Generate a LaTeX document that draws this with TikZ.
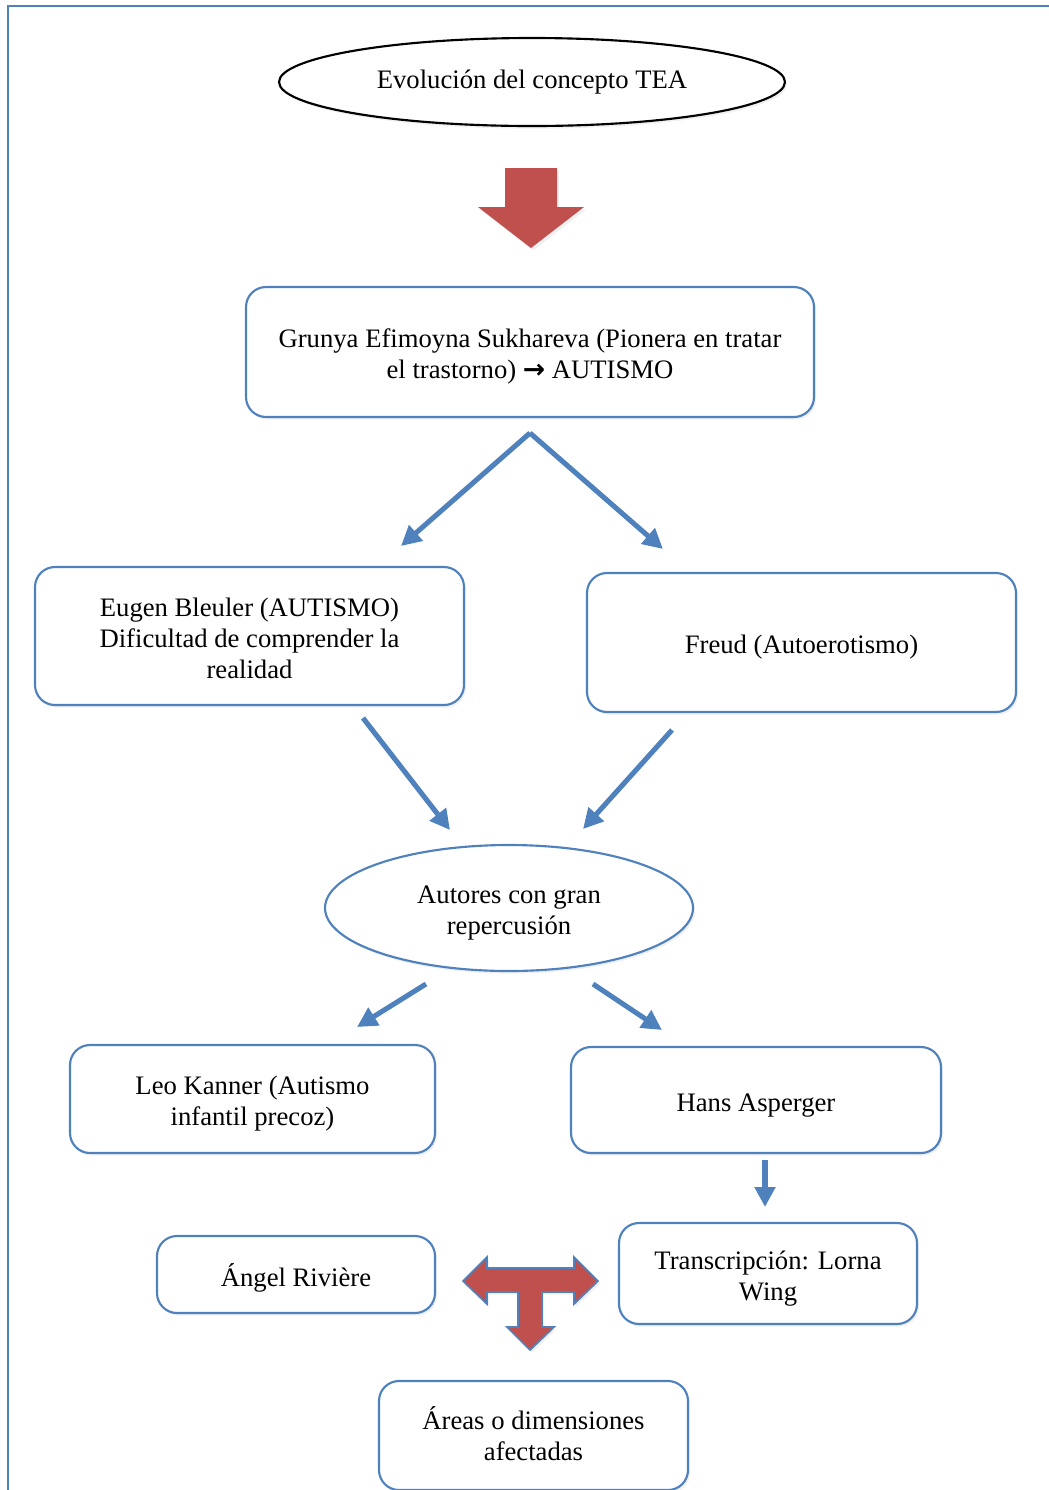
\documentclass[tikz,border=0pt]{standalone}
\usepackage{fontspec}
\setmainfont{Liberation Serif}
\newfontfamily\symfont{DejaVu Sans}
\usetikzlibrary{shapes.geometric,arrows.meta,shadows}
\definecolor{frameblue}{HTML}{4F81BD}
\definecolor{blockred}{HTML}{C0504D}
\begin{document}
\begin{tikzpicture}[x=0.75pt,y=-0.75pt,
  every node/.style={font=\fontsize{20}{23.25}\selectfont, align=center, inner sep=0pt},
  softshadow/.style={drop shadow={opacity=0.12, shadow xshift=1.5pt, shadow yshift=-2pt}},
  roundbox/.style={draw=frameblue, line width=1.6pt, rounded corners=15pt, fill=white, softshadow},
  oval/.style={ellipse, fill=white, line width=1.6pt, softshadow},
  flowarrow/.style={draw=frameblue, line width=3.8pt, -{Triangle[length=15pt,width=15pt]}},
  blockarrow/.style={fill=blockred, softshadow}
]
\useasboundingbox (0,0) rectangle (1049,1490);
% page frame
\draw[frameblue, line width=2pt] (8,6) rectangle (1070,1510);

% title
\node[oval, draw=black, minimum width=379.5pt, minimum height=66pt] (title) at (532,82) {Evolución del concepto TEA};

% red block arrow under the title
\path[blockarrow] (505,168) -- (557,168) -- (557,207) -- (584,207) -- (531,248) -- (478,207) -- (505,207) -- cycle;

% boxes (frames), texts set just below their centres
\node[roundbox, minimum width=426pt, minimum height=97.5pt] (sukh) at (530,352) {};
\node[yshift=-3pt] (sukhtext) at (sukh)
  {Grunya Efimoyna Sukhareva (Pionera en tratar\\el trastorno) {\symfont\bfseries →} AUTISMO};

\node[roundbox, minimum width=321.75pt, minimum height=103.5pt] (bleuler) at (249.5,636) {};
\node[yshift=-1.5pt] (bleulertext) at (bleuler)
  {Eugen Bleuler (AUTISMO)\\Dificultad de comprender la\\realidad};

\node[roundbox, minimum width=321.75pt, minimum height=104.25pt] (freud) at (801.5,642.5) {};
\node[yshift=-3.75pt] (freudtext) at (freud) {Freud (Autoerotismo)};

\node[oval, draw=frameblue, minimum width=276pt, minimum height=94.5pt] (autores) at (509,908) {};
\node[yshift=-3.75pt] (autorestext) at (autores) {Autores con gran\\repercusión};

\node[roundbox, minimum width=273.75pt, minimum height=81pt] (kanner) at (252.5,1099) {};
\node[yshift=-3.75pt] (kannertext) at (kanner) {Leo Kanner (Autismo\\infantil precoz)};

\node[roundbox, minimum width=277.5pt, minimum height=79.5pt] (asperger) at (756,1100) {};
\node[yshift=-4.5pt] (aspergertext) at (asperger) {Hans Asperger};

\node[roundbox, minimum width=223.5pt, minimum height=75.75pt] (wing) at (768,1273.5) {};
\node[yshift=-3.75pt] (wingtext) at (wing) {Transcripción: Lorna\\Wing};

\node[roundbox, minimum width=208.5pt, minimum height=57.75pt] (riviere) at (296,1274.5) {};
\node[yshift=-2.25pt] (rivieretext) at (riviere) {Ángel Rivière};

\node[roundbox, minimum width=231.75pt, minimum height=81.75pt] (areas) at (533.5,1435.5) {};
\node[yshift=1.5pt] (areastext) at (areas) {Áreas o dimensiones\\afectadas};

% arrow end points
\coordinate (sukhout) at (530,433);
\coordinate (toBleuler) at (401,546);
\coordinate (toFreud) at (663,549);
\coordinate (bleulerout) at (363,718);
\coordinate (freudout) at (672,730);
\coordinate (inAutL) at (450,830);
\coordinate (inAutR) at (583,829);
\coordinate (autL) at (426,984);
\coordinate (autR) at (593,984);
\coordinate (toKanner) at (357,1027);
\coordinate (toAsperger) at (662,1030);
\coordinate (aspout) at (765,1160);
\coordinate (toWing) at (765,1207);

% blue connectors
\draw[flowarrow] (sukhout) -- (toBleuler);
\draw[flowarrow] (sukhout) -- (toFreud);
\draw[flowarrow] (bleulerout) -- (inAutL);
\draw[flowarrow] (freudout) -- (inAutR);
\draw[flowarrow] (autL) -- (toKanner);
\draw[flowarrow] (autR) -- (toAsperger);
\draw[flowarrow] (aspout) -- (toWing);

% three-way block arrow
\path[blockarrow, draw=frameblue, line width=1.3pt, line join=miter]
  (463,1281) -- (487,1257) -- (487,1268) -- (574,1268) -- (574,1257) -- (598,1281)
  -- (574,1304) -- (574,1292) -- (542,1292) -- (542,1327) -- (554,1327) -- (530,1350)
  -- (507,1327) -- (518,1327) -- (518,1292) -- (487,1292) -- (487,1304) -- cycle;
\end{tikzpicture}
\end{document}
